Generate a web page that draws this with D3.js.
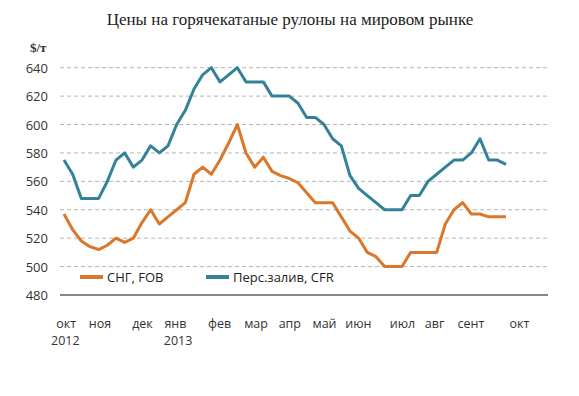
<!DOCTYPE html>
<html><head><meta charset="utf-8">
<script src="https://cdn.jsdelivr.net/npm/d3@7"></script>
<style>body{margin:0;background:#fff}svg{display:block}</style>
</head><body>
<svg id="c" width="579" height="396"></svg>
<script>
const title = "Цены на горячекатаные рулоны на мировом рынке";
const unitLabel = "$/т";
const seriesNames = ["СНГ, FOB", "Перс.залив, CFR"];
// weekly prices, Oct 2012 – Oct 2013
const cisFob = [537,526,518,514,512,515,520,517,520,531,540,530,535,540,545,565,570,565,575,587,600,580,570,577,567,564,562,559,552,545,545,545,535,525,520,510,507,500,500,500,510,510,510,510,530,540,545,537,537,535,535,535];
const gulfCfr = [575,565,548,548,548,560,575,580,570,575,585,580,585,600,610,625,635,640,630,635,640,630,630,630,620,620,620,615,605,605,600,590,585,564,555,550,545,540,540,540,550,550,560,565,570,575,575,580,590,575,575,572];
const monthLabels = ["окт","ноя","дек","янв","фев","мар","апр","май","июн","июл","авг","сент","окт"];
const monthPos = [0.2,4.1,9,12.8,17.9,22.1,26,30,33.9,39,42.7,46.9,52.5];
const yearLabels = ["2012","2013"];
const yearPos = [0.1,13.1];
const yTicks = [480,500,520,540,560,580,600,620,640];
const colors = ["#DA772A","#33829A"];

const svg = d3.select("#c");
const x = d3.scaleLinear().domain([0, cisFob.length - 1]).range([64, 506]);
const y = d3.scaleLinear().domain([480, 640]).range([295, 67.7]);
const gridX0 = 60, gridX1 = 548;
const sans = "'Open Sans', sans-serif";

svg.append("text").attr("x", 290).attr("y", 25).attr("text-anchor", "middle")
  .attr("font-family", "'Liberation Serif', 'DejaVu Serif', serif").attr("font-size", 17)
  .attr("fill", "#222").text(title);
svg.append("text").attr("x", 30).attr("y", 52)
  .attr("font-family", "'Liberation Serif', 'DejaVu Serif', serif").attr("font-size", 13)
  .attr("font-weight", "bold").attr("fill", "#333").text(unitLabel);

// grid
svg.append("g").selectAll("line").data(yTicks.filter(v => v > 480)).join("line")
  .attr("x1", gridX0).attr("x2", gridX1)
  .attr("y1", d => y(d)).attr("y2", d => y(d))
  .attr("stroke", "#b5b5b5").attr("stroke-width", 1).attr("stroke-dasharray", "4,3");
svg.append("line").attr("x1", gridX0).attr("x2", gridX1).attr("y1", y(480)).attr("y2", y(480))
  .attr("stroke", "#111").attr("stroke-width", 1);

// y axis labels
const yAxis = d3.axisLeft(y).tickValues(yTicks).tickSize(0).tickPadding(0);
const gy = svg.append("g").attr("transform", "translate(48,0)").call(yAxis);
gy.select(".domain").remove();
gy.selectAll("text").attr("font-family", sans).attr("font-size", 13).attr("fill", "#333").attr("dy", "0.35em");

// x axis labels
const xa = d3.axisBottom(x).tickValues(monthPos).tickFormat((d, i) => monthLabels[i]).tickSize(0).tickPadding(0);
const gx = svg.append("g").attr("transform", "translate(0,319)").call(xa);
gx.select(".domain").remove();
gx.selectAll("text").attr("font-family", sans).attr("font-size", 12.5).attr("fill", "#333").attr("dy", "0.71em");
const xb = d3.axisBottom(x).tickValues(yearPos).tickFormat((d, i) => yearLabels[i]).tickSize(0).tickPadding(0);
const gx2 = svg.append("g").attr("transform", "translate(0,336)").call(xb);
gx2.select(".domain").remove();
gx2.selectAll("text").attr("font-family", sans).attr("font-size", 12.5).attr("fill", "#333").attr("dy", "0.71em");

// lines
const line = d3.line().x((d, i) => x(i)).y(d => y(d));
[cisFob, gulfCfr].forEach((s, k) => {
  svg.append("path").datum(s).attr("d", line).attr("fill", "none")
    .attr("stroke", colors[k]).attr("stroke-width", 3).attr("stroke-linejoin", "round");
});

// legend
const legX = [80, 206];
seriesNames.forEach((n, k) => {
  svg.append("line").attr("x1", legX[k]).attr("x2", legX[k] + 23).attr("y1", 277).attr("y2", 277)
    .attr("stroke", colors[k]).attr("stroke-width", 4);
  svg.append("text").attr("x", legX[k] + 27).attr("y", 277).attr("dy", "0.35em")
    .attr("font-family", sans).attr("font-size", 13).attr("fill", "#222").text(n);
});
</script>
</body></html>
